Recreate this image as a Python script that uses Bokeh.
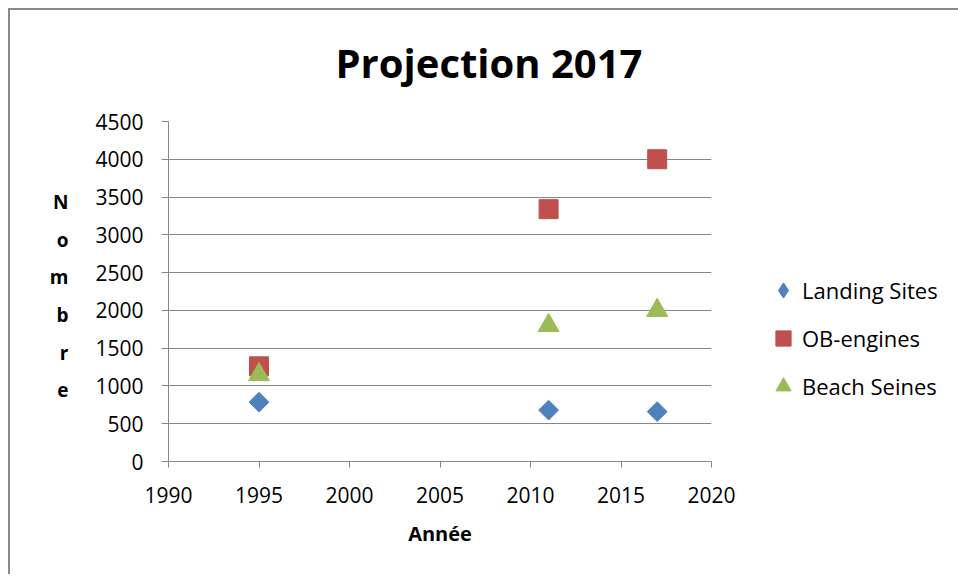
import math
from bokeh.plotting import figure
from bokeh.models import (Range1d, SingleIntervalTicker, FixedTicker, Legend,
                          LegendItem, LinearAxis, ColumnDataSource)
from bokeh.embed import file_html
from bokeh.resources import INLINE

# ---- data ----
years = [1995, 2011, 2017]
landing_sites = [785, 680, 660]
ob_engines = [1260, 3340, 4000]
beach_seines = [1150, 1800, 2000]
series_names = ["Landing Sites", "OB-engines", "Beach Seines"]
title_text = "Projection 2017"
x_label = "Année"
y_label = "Nombre"

FONT = "Open Sans"
GREY = "#878787"
BLUE, RED, GREEN = "#4F81BD", "#C0504D", "#9BBB59"

p = figure(width=954, height=574, output_backend="svg", toolbar_location=None,
           x_range=Range1d(1990, 2020), y_range=Range1d(0, 4500),
           frame_width=543, frame_height=340,
           min_border_left=168, min_border_right=243,
           min_border_top=121, min_border_bottom=113)
p.outline_line_color = None
p.border_fill_alpha = 0
p.background_fill_color = None
p.styles = {
    "background": "linear-gradient(#8a8a8a,#8a8a8a) 8px 8px / 2px 100% no-repeat, "
                  "linear-gradient(#8a8a8a,#8a8a8a) 8px 8px / 100% 2px no-repeat"
}

# title
p.title.text = title_text
p.title.align = "left"
p.title.offset = 167
p.title.text_font = FONT
p.title.text_font_style = "bold"
p.title.text_font_size = "40px"
p.title.text_color = "black"
p.title.standoff = 64

src_l = ColumnDataSource(dict(x=years, y=landing_sites))
src_o = ColumnDataSource(dict(x=years, y=ob_engines))
src_b = ColumnDataSource(dict(x=years, y=beach_seines))

# diamond-shaped key for the legend (drawn underneath the real markers)
r_l_key = p.scatter("x", "y", source=src_l, marker="diamond", size=12,
                    fill_color=BLUE, line_color=BLUE)
r_l = p.scatter("x", "y", source=src_l, marker="square", angle=math.pi / 4,
                size=14, fill_color=BLUE, line_color=BLUE)
r_o = p.scatter("x", "y", source=src_o, marker="square", size=19,
                fill_color=RED, line_color=RED)
r_b = p.scatter("x", "y", source=src_b, marker="triangle", size=21,
                fill_color=GREEN, line_color=GREEN)

# axes
p.xaxis.ticker = SingleIntervalTicker(interval=5, num_minor_ticks=0)
p.yaxis.ticker = SingleIntervalTicker(interval=500, num_minor_ticks=0)
for ax in (p.xaxis[0], p.yaxis[0]):
    ax.axis_line_color = GREY
    ax.major_tick_line_color = GREY
    ax.minor_tick_line_color = None
    ax.major_tick_in = 0
    ax.major_label_text_font = FONT
    ax.major_label_text_font_size = "21px"
    ax.major_label_text_color = "black"
p.xaxis.major_tick_out = 6
p.yaxis.major_tick_out = 7
p.xaxis.major_label_standoff = 19
p.yaxis.major_label_standoff = 18
p.xaxis.axis_label = x_label
p.xaxis.axis_label_text_font = FONT
p.xaxis.axis_label_text_font_style = "bold"
p.xaxis.axis_label_text_font_size = "20px"
p.xaxis.axis_label_text_color = "black"
p.xaxis.axis_label_standoff = 14

# stacked letters of the y-axis title, drawn as an extra axis
letter_pos = [201, 239, 276, 314, 352, 389]
p.extra_y_ranges = {"letters": Range1d(461, 121)}
letter_axis = LinearAxis(y_range_name="letters",
                         ticker=FixedTicker(ticks=letter_pos, minor_ticks=[]),
                         major_label_overrides={pos: ch for pos, ch in zip(letter_pos, y_label)},
                         axis_line_color=None, major_tick_line_color=None,
                         minor_tick_line_color=None, major_tick_out=0, major_tick_in=0,
                         major_label_standoff=24,
                         major_label_text_font=FONT, major_label_text_font_style="bold",
                         major_label_text_font_size="19px", major_label_text_color="black")
p.add_layout(letter_axis, "left")

p.xgrid.grid_line_color = None
p.ygrid.grid_line_color = GREY
p.ygrid.grid_line_width = 1

legend = Legend(items=[LegendItem(label=series_names[0], renderers=[r_l_key]),
                       LegendItem(label=series_names[1], renderers=[r_o]),
                       LegendItem(label=series_names[2], renderers=[r_b])],
                location=(53, 54), glyph_width=38, glyph_height=42,
                label_standoff=0, spacing=6, padding=0, margin=0,
                border_line_color=None, background_fill_alpha=0,
                label_text_font=FONT, label_text_font_size="22px",
                label_text_color="black")
p.add_layout(legend, "right")

open("out.html", "w").write(file_html(p, INLINE))
